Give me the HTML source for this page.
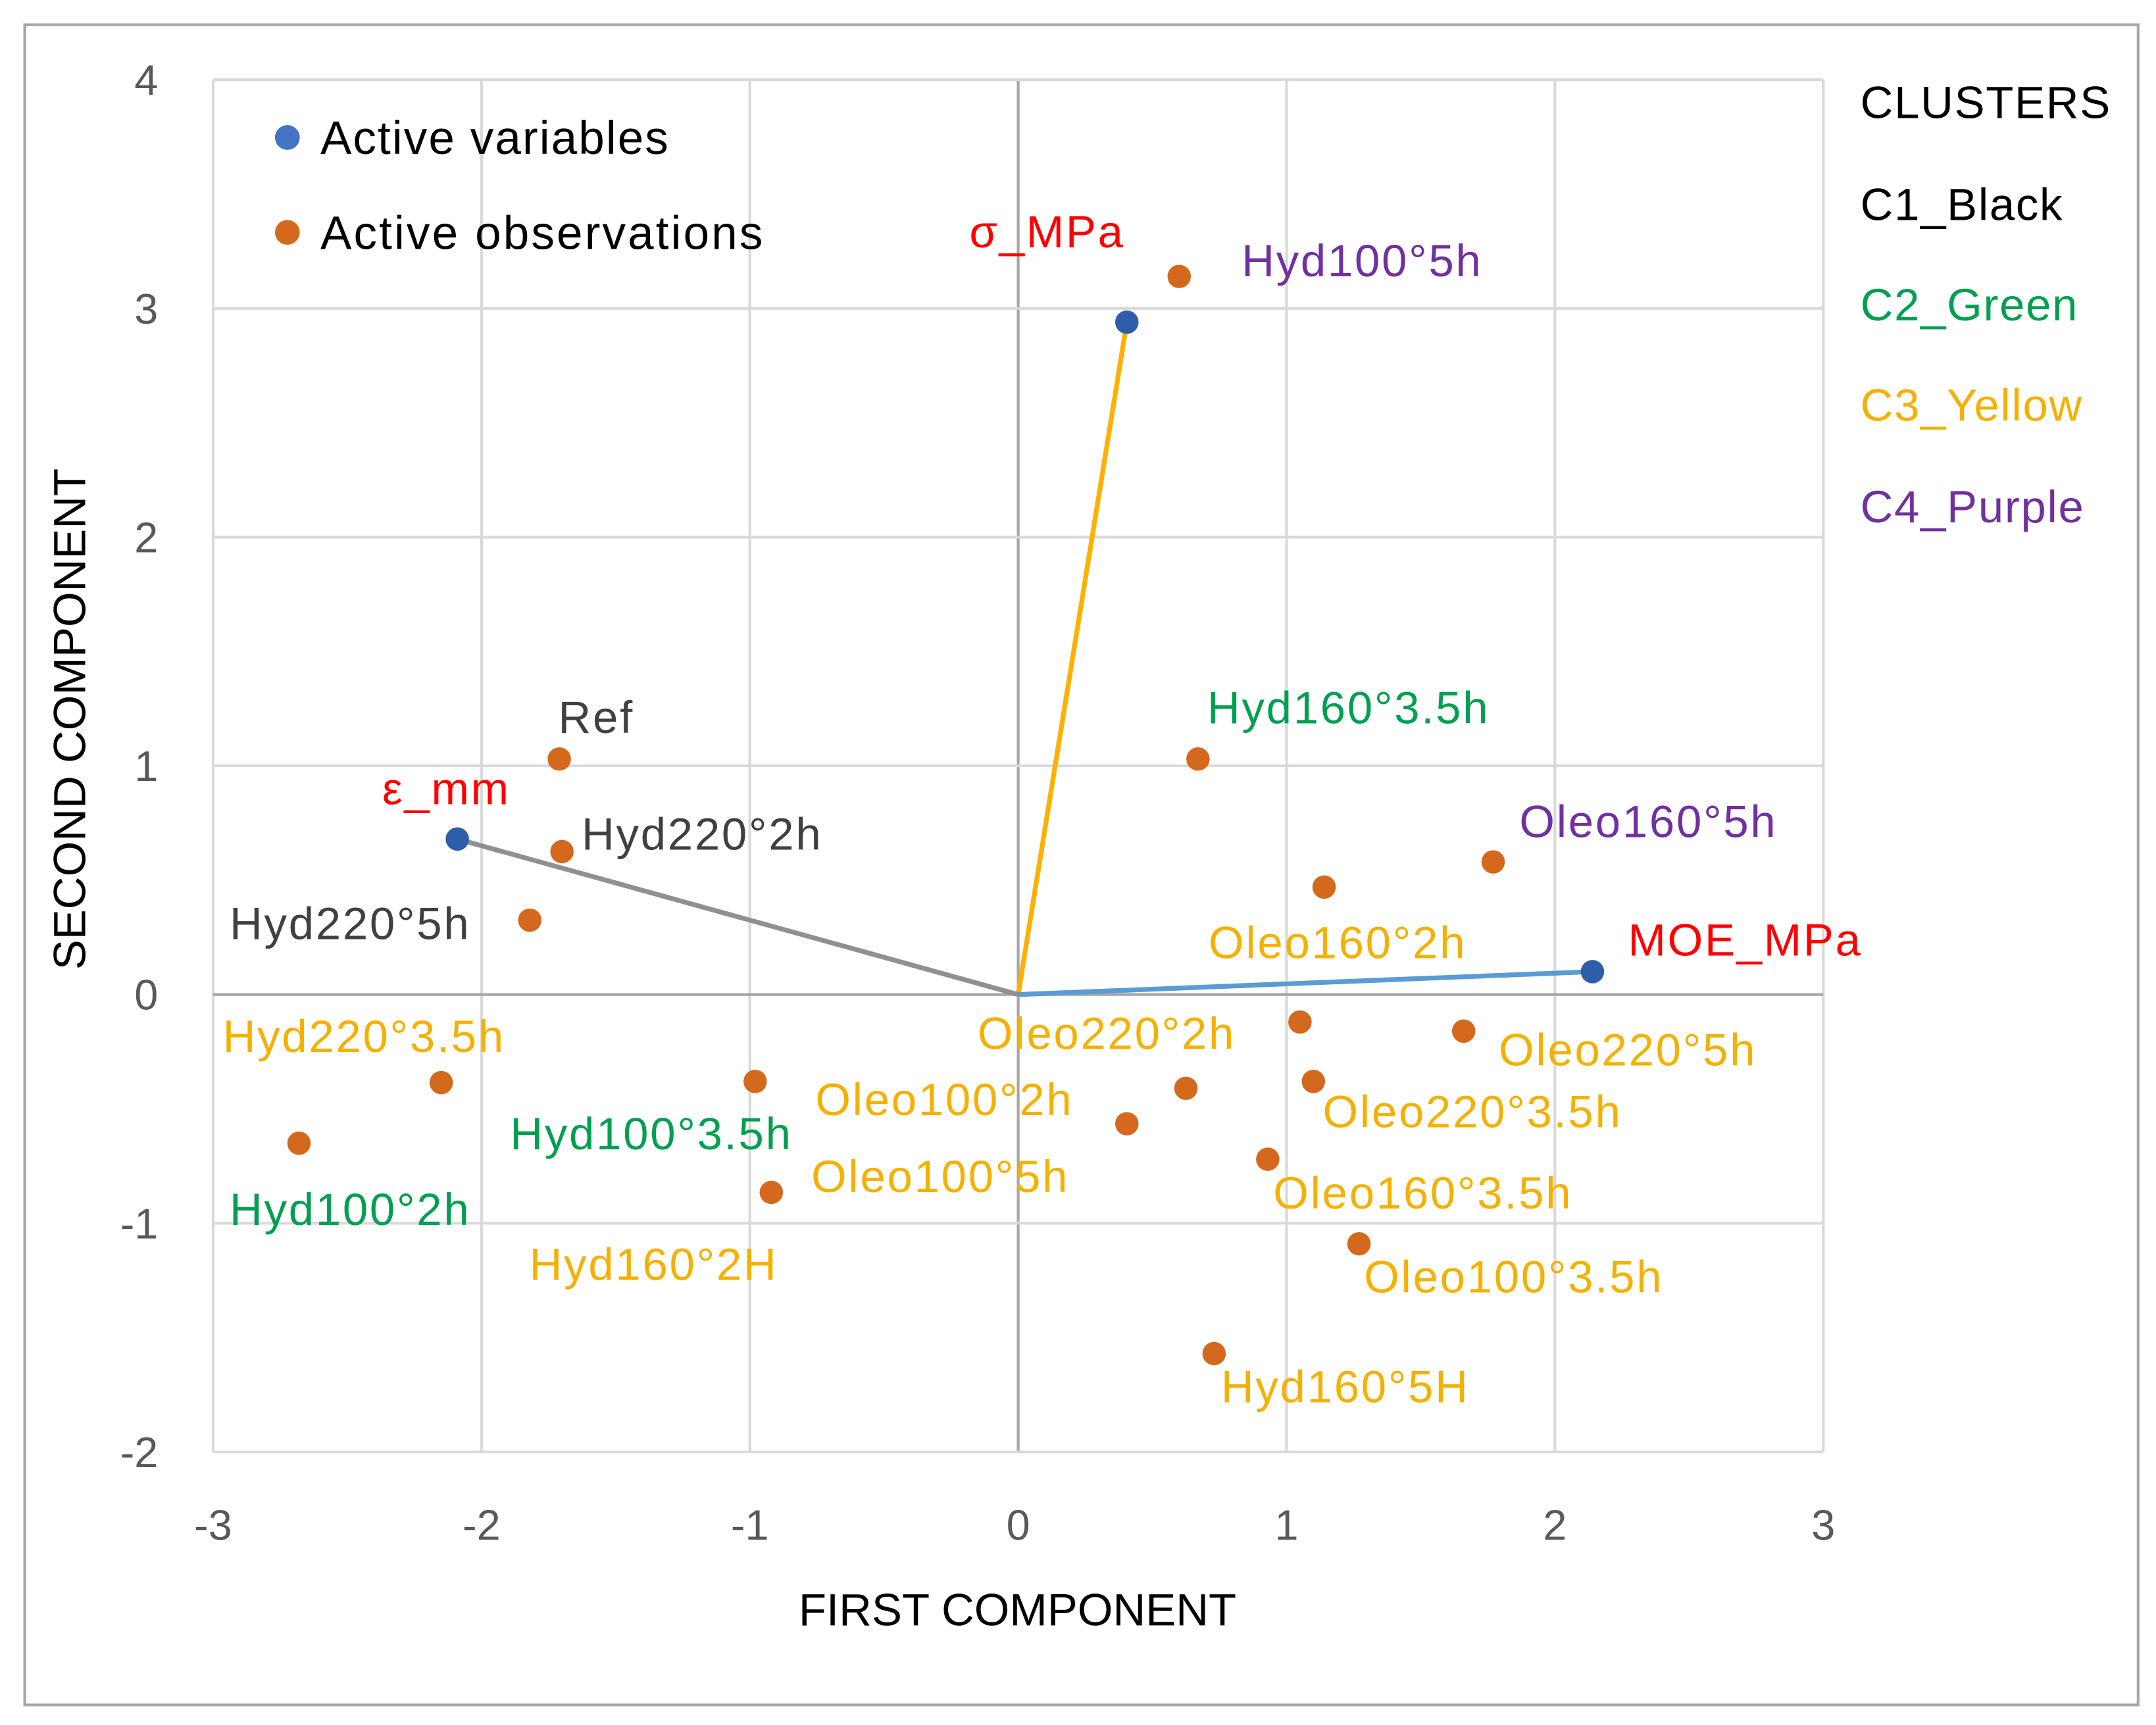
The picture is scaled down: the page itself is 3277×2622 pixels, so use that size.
<!DOCTYPE html>
<html><head><meta charset="utf-8"><style>
html,body{margin:0;padding:0;background:#fff}
svg{display:block}
text{font-family:"Liberation Sans",sans-serif}
</style></head><body>
<svg id="chart" width="3277" height="2622" viewBox="0 0 1568 1254.6" preserveAspectRatio="none" xmlns="http://www.w3.org/2000/svg">
<rect x="0" y="0" width="1568" height="1254.6" fill="#fff"/>
<rect x="18" y="18" width="1537" height="1222" fill="none" stroke="#a6a6a6" stroke-width="2"/>
<g id="grid"></g>
<g id="axes"></g>
<g id="lines"></g>
<g id="points"></g>
<g id="labels"></g>
<g>
<circle cx="209" cy="100" r="9" fill="#4472C4"/>
<text x="233" y="112" font-size="34" letter-spacing="1" fill="#000">Active variables</text>
<circle cx="209" cy="169" r="9" fill="#D4691E"/>
<text x="233" y="181" font-size="34" letter-spacing="1.5" fill="#000">Active observations</text>
</g>
<g font-size="33" letter-spacing="0.8">
<text x="1353" y="86" fill="#000">CLUSTERS</text>
<text x="1353" y="160" fill="#000">C1_Black</text>
<text x="1353" y="233" fill="#00A050">C2_Green</text>
<text x="1353" y="306" fill="#F5B000">C3_Yellow</text>
<text x="1353" y="380" fill="#7030A0">C4_Purple</text>
</g>
<text x="740" y="1182" font-size="33" text-anchor="middle" fill="#000">FIRST COMPONENT</text>
<text transform="translate(62,523) rotate(-90)" font-size="33" text-anchor="middle" fill="#000">SECOND COMPONENT</text>
</svg>
<script>
const xTicks = [-3,-2,-1,0,1,2,3];
const yTicks = [-2,-1,0,1,2,3,4];
const varNames = ["σ_MPa","ε_mm","MOE_MPa"];
const varX = [0.405,-2.09,2.14];
const varY = [2.94,0.68,0.10];
const varColors = ["#FFB000","#909090","#5B9BD5"];
const obsX = [0.60,0.67,-1.71,-1.70,-1.82,1.77,1.14,1.05,1.66,1.10,0.625,0.405,0.93,1.27,0.73,-0.98,-0.92,-2.15,-2.68];
const obsY = [3.14,1.03,1.03,0.625,0.325,0.58,0.47,-0.12,-0.16,-0.38,-0.41,-0.565,-0.72,-1.09,-1.57,-0.38,-0.865,-0.385,-0.65];
const labelTexts = ["σ_MPa","Hyd100°5h","Hyd160°3.5h","Ref","ε_mm","Hyd220°2h","Hyd220°5h","Oleo160°5h","MOE_MPa","Oleo160°2h","Oleo220°2h","Oleo220°5h","Oleo220°3.5h","Oleo100°2h","Oleo100°5h","Oleo160°3.5h","Oleo100°3.5h","Hyd160°5H","Hyd220°3.5h","Hyd100°3.5h","Hyd100°2h","Hyd160°2H"];
const labelColors = ["#FF0000","#7030A0","#00A050","#404040","#FF0000","#404040","#404040","#7030A0","#FF0000","#F5B000","#F5B000","#F5B000","#F5B000","#F5B000","#F5B000","#F5B000","#F5B000","#F5B000","#F5B000","#00A050","#00A050","#F5B000"];
const labelPos = [[705,180],[903,201],[878,526],[406,533],[278,585],[423,618],[167,683],[1105,609],[1184,695],[879,697],[711,763],[1090,775],[962,820],[593,811],[590,867],[926,879],[992,940],[888,1020],[162,765],[371,836],[167,891],[385,931]];

const NS="http://www.w3.org/2000/svg";
const L=155,R=1326,T=58,B=1056;
const sx=v=>L+(v+3)/6*(R-L);
const sy=v=>B-(v+2)/6*(B-T);
function mk(tag,attrs,parent){const e=document.createElementNS(NS,tag);for(const k in attrs)e.setAttribute(k,attrs[k]);parent.appendChild(e);return e;}
const grid=document.getElementById('grid'),axes=document.getElementById('axes');
xTicks.forEach(t=>{
 const l=mk('line',{x1:sx(t),x2:sx(t),y1:T,y2:B,stroke:t===0?'#a6a6a6':'#d9d9d9','stroke-width':2},grid);
 
 
 const tx=mk('text',{x:sx(t),y:1120,'font-size':31,'text-anchor':'middle',fill:'#595959'},axes);
 tx.textContent=String(t);
 
 
});
yTicks.forEach(t=>{
 const l=mk('line',{x1:L,x2:R,y1:sy(t),y2:sy(t),stroke:t===0?'#a6a6a6':'#d9d9d9','stroke-width':2},grid);
 
 
 const tx=mk('text',{x:115,y:sy(t)+11,'font-size':31,'text-anchor':'end',fill:'#595959'},axes);
 tx.textContent=String(t);
 
 
});
const lines=document.getElementById('lines'),pts=document.getElementById('points'),lab=document.getElementById('labels');
varX.forEach((v,i)=>{
 const l=mk('line',{x1:sx(0),y1:sy(0),x2:sx(v),y2:sy(varY[i]),stroke:varColors[i],'stroke-width':3.5},lines);
 
 
});
obsX.forEach((v,i)=>{
 const c=mk('circle',{cx:sx(v),cy:sy(obsY[i]),r:8.5,fill:'#D4691E'},pts);
 
 
});
varX.forEach((v,i)=>{
 const c=mk('circle',{cx:sx(v),cy:sy(varY[i]),r:8.5,fill:'#2E5EAA'},pts);
 
 
});
labelTexts.forEach((s,i)=>{
 const t=mk('text',{x:labelPos[i][0],y:labelPos[i][1],'font-size':33,'letter-spacing':1.3,fill:labelColors[i]},lab);
 t.textContent=s;
 
 
});
</script>
</body></html>
